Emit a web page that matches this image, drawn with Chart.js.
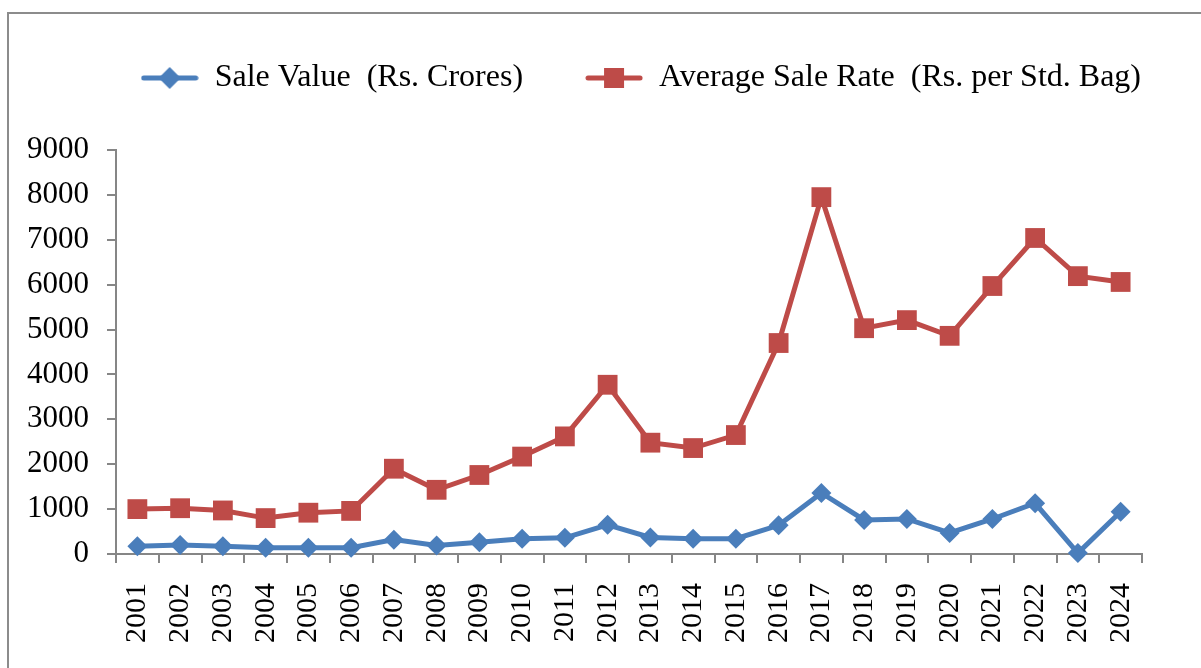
<!DOCTYPE html>
<html>
<head>
<meta charset="utf-8">
<script src="https://cdn.jsdelivr.net/npm/chart.js@4.4.1/dist/chart.umd.min.js"></script>
<style>
  html, body { margin: 0; padding: 0; background: #fff; overflow: hidden; }
  #cadre {
    position: absolute; left: 7px; top: 12px; width: 1300px; height: 800px;
    border: 2px solid #8c8c8c;
  }
  #zone { position: absolute; left: 0; top: 0; width: 1201px; height: 668px; }
</style>
</head>
<body>
<div id="cadre"></div>
<div id="zone"><canvas id="myChart" width="1201" height="668"></canvas></div>
<script>
// données
const annees = ["2001","2002","2003","2004","2005","2006","2007","2008","2009","2010","2011","2012",
                "2013","2014","2015","2016","2017","2018","2019","2020","2021","2022","2023","2024"];
const valeurVente = [170, 200, 170, 140, 140, 140, 320, 190, 260, 340, 360, 650,
                     370, 340, 340, 640, 1360, 760, 780, 470, 780, 1130, 20, 940];
const prixMoyen = [1000, 1020, 970, 800, 920, 960, 1900, 1430, 1760, 2170, 2620, 3770,
                   2480, 2360, 2650, 4700, 7950, 5030, 5210, 4860, 5970, 7040, 6190, 6060];
const yMin = 0, yMax = 9000, yPas = 1000;

const BLEU = "#4A7EBB";
const ROUGE = "#BE4B48";
const GRIS = "#868686";
const police = "'Liberation Serif', 'Times New Roman', serif";

// petite image ligne + marqueur pour la légende
function iconeLegende(couleur, forme) {
  const c = document.createElement("canvas");
  c.width = 58; c.height = 24;
  const g = c.getContext("2d");
  g.strokeStyle = couleur;
  g.lineWidth = 5;
  g.lineCap = "round";
  g.beginPath(); g.moveTo(3, 12); g.lineTo(55, 12); g.stroke();
  g.fillStyle = couleur;
  if (forme === "carre") {
    g.fillRect(19, 2, 20, 20);
  } else {
    g.beginPath();
    g.moveTo(29, 1); g.lineTo(40, 12); g.lineTo(29, 23); g.lineTo(18, 12);
    g.closePath(); g.fill();
  }
  return c;
}

// hauteur fixe de la légende + décalage vers la droite
const reglageLegende = {
  id: "reglageLegende",
  afterInit(chart) {
    const leg = chart.legend;
    if (!leg) return;
    const fitOrig = leg.fit;
    leg.fit = function () { fitOrig.call(this); this.height = 150; };
  },
  afterLayout(chart) {
    const leg = chart.legend;
    if (!leg) return;
    leg.left += 61;
    leg.right += 61;
  }
};

const ctx = document.getElementById("myChart");
new Chart(ctx, {
  type: "line",
  data: {
    labels: annees,
    datasets: [{
      label: "Sale Value  (Rs. Crores)",
      data: valeurVente,
      borderColor: BLEU,
      backgroundColor: BLEU,
      borderWidth: 5,
      pointStyle: "rectRot",
      pointRadius: 10,
      pointHoverRadius: 10,
      pointBorderWidth: 0,
      tension: 0,
      clip: false
    }, {
      label: "Average Sale Rate  (Rs. per Std. Bag)",
      data: prixMoyen,
      borderColor: ROUGE,
      backgroundColor: ROUGE,
      borderWidth: 5,
      pointStyle: "rect",
      pointRadius: 14,
      pointHoverRadius: 14,
      pointBorderWidth: 0,
      tension: 0,
      clip: false
    }]
  },
  options: {
    responsive: false,
    animation: false,
    layout: { padding: { left: 0, right: 59, top: 0, bottom: 0 } },
    plugins: {
      tooltip: { enabled: false },
      legend: {
        position: "top",
        align: "end",
        labels: {
          usePointStyle: true,
          pointStyleWidth: 58,
          padding: 62,
          color: "#000",
          font: { family: police, size: 32 },
          generateLabels(chart) {
            return [
              { text: chart.data.datasets[0].label, pointStyle: iconeLegende(BLEU, "losange"),
                fillStyle: BLEU, strokeStyle: BLEU, lineWidth: 0, datasetIndex: 0, fontColor: "#000" },
              { text: chart.data.datasets[1].label, pointStyle: iconeLegende(ROUGE, "carre"),
                fillStyle: ROUGE, strokeStyle: ROUGE, lineWidth: 0, datasetIndex: 1, fontColor: "#000" }
            ];
          }
        }
      }
    },
    scales: {
      x: {
        offset: true,
        grid: { offset: true, drawOnChartArea: false, color: GRIS, lineWidth: 2, tickLength: 9 },
        border: { color: GRIS, width: 2 },
        ticks: {
          color: "#000", font: { family: police, size: 30 },
          minRotation: 90, maxRotation: 90, padding: 20, autoSkip: false
        },
        afterFit(s) { s.height = 114; }
      },
      y: {
        min: yMin, max: yMax,
        grid: { drawOnChartArea: false, color: GRIS, lineWidth: 2, tickLength: 9 },
        border: { color: GRIS, width: 2 },
        ticks: {
          stepSize: yPas, color: "#000", font: { family: police, size: 31 }, padding: 18,
          callback: (v) => String(v)
        },
        afterFit(s) { s.width = 116; }
      }
    }
  },
  plugins: [reglageLegende]
});
</script>
</body>
</html>
